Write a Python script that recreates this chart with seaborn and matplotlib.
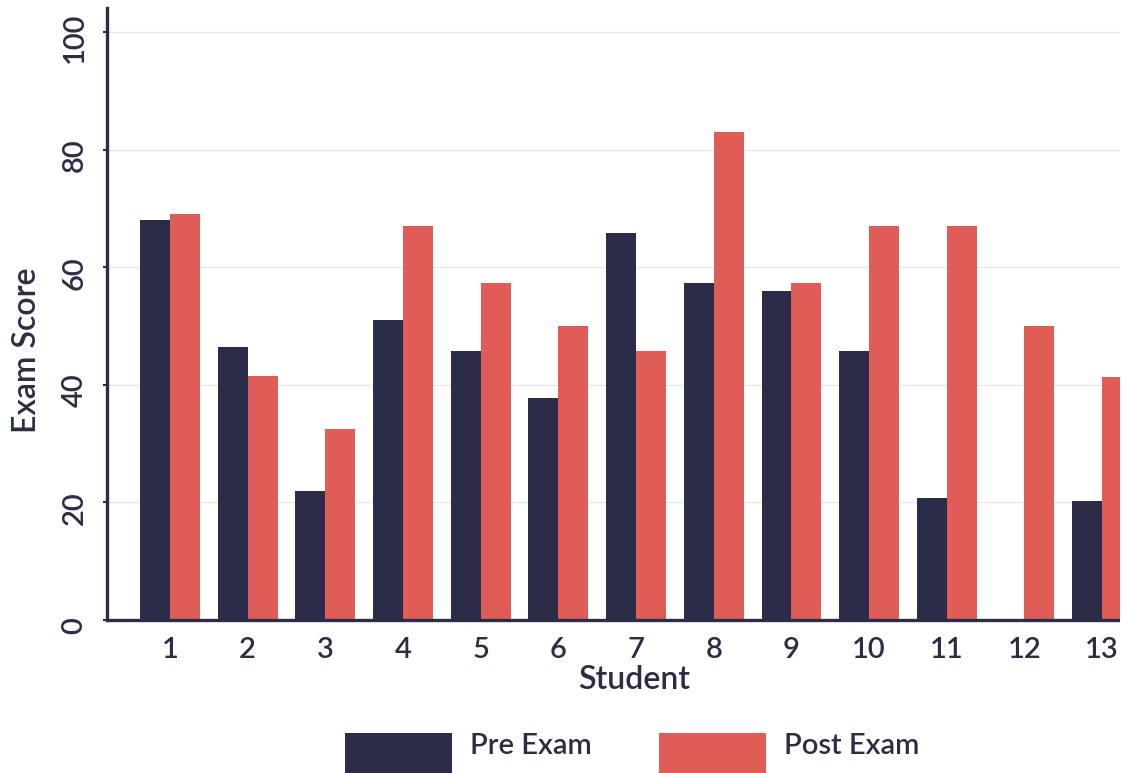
import matplotlib
matplotlib.use("Agg")
import matplotlib.pyplot as plt
from matplotlib.patches import Patch, Rectangle
from matplotlib.legend_handler import HandlerPatch
from matplotlib.transforms import ScaledTranslation
import seaborn as sns
import pandas as pd

# Exam scores per student
students = [str(i) for i in range(1, 14)]
pre_exam = [68, 46.5, 22, 51, 45.7, 37.8, 65.8, 57.4, 56, 45.7, 20.7, 0, 20.3]
post_exam = [69, 41.5, 32.5, 67, 57.4, 50, 45.7, 83, 57.4, 67, 67, 50, 41.4]
series_names = ["Pre Exam", "Post Exam"]
y_ticks = [0, 20, 40, 60, 80, 100]

NAVY = "#2a2c48"
RED = "#e05d57"
TEXT = "#2b2d42"
GRID = "#e8e8ea"
WEIGHT = "semibold"

sns.set_theme(style="white")
plt.rcParams["font.family"] = ["Lato", "DejaVu Sans"]

df = pd.DataFrame({
    "Student": students * 2,
    "Score": pre_exam + post_exam,
    "Exam": [series_names[0]] * len(students) + [series_names[1]] * len(students),
})

W, H = 1128, 773
fig = plt.figure(figsize=(W / 100, H / 100), dpi=100)
fig.patch.set_facecolor("white")
ax = fig.add_axes([107 / W, 153 / H, (1120 - 107) / W, 612 / H])

sns.barplot(data=df, x="Student", y="Score", hue="Exam", order=students,
            hue_order=series_names, palette=[NAVY, RED], width=0.77,
            saturation=1, legend=False, ax=ax, linewidth=0)

ax.set_xlim(-0.811, 12.23)
ax.set_ylim(0, 104.1)
ax.set_yticks(y_ticks)
ax.yaxis.grid(True, color=GRID, linewidth=1.0)
ax.set_axisbelow(True)

for side in ["top", "right"]:
    ax.spines[side].set_visible(False)
for side in ["left", "bottom"]:
    ax.spines[side].set_color(NAVY)
    ax.spines[side].set_linewidth(2.4)

ax.tick_params(axis="y", which="major", left=True, length=3, width=1.5,
               color=NAVY, labelsize=21, labelcolor=TEXT, pad=11,
               labelrotation=90)
ax.tick_params(axis="x", bottom=False, labelsize=21, labelcolor=TEXT, pad=6)
shift_down = ScaledTranslation(0, -4 / 72, fig.dpi_scale_trans)
for lbl in ax.get_yticklabels():
    lbl.set_va("center")
    lbl.set_fontweight(WEIGHT)
    lbl.set_transform(lbl.get_transform() + shift_down)
for lbl in ax.get_xticklabels():
    lbl.set_fontweight(WEIGHT)

ax.set_xlabel("Student", fontsize=23, color=TEXT, fontweight=WEIGHT)
ax.set_ylabel("Exam Score", fontsize=23, color=TEXT, fontweight=WEIGHT)
ax.xaxis.set_label_coords(0.52, -0.073)
ax.yaxis.set_label_coords(-0.064, 0.44)


def tall_box(legend, orig_handle, xdescent, ydescent, width, height, fontsize):
    top = 0.75 * fontsize
    return Rectangle((-xdescent, top - 2.4 * fontsize), width, 2.4 * fontsize)


handles = [Patch(facecolor=NAVY, edgecolor="none"),
           Patch(facecolor=RED, edgecolor="none")]
fig.legend(handles, series_names, loc="lower center",
           bbox_to_anchor=(632 / W, -1 / H), ncol=2, frameon=False,
           prop={"size": 21, "weight": WEIGHT}, labelcolor=TEXT,
           handlelength=3.67, handletextpad=0.62, columnspacing=2.3,
           borderpad=0,
           handler_map={Patch: HandlerPatch(patch_func=tall_box)})

# blank strip along the right edge
fig.add_artist(Rectangle((1120 / W, 0), 8 / W, 1, transform=fig.transFigure,
                         facecolor="white", edgecolor="none", zorder=20))

fig.savefig("out.png", dpi=100)
